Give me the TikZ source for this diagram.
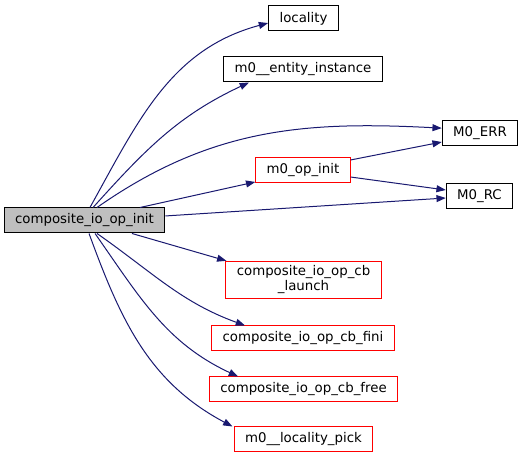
\documentclass[tikz,border=0pt]{standalone}
\usepackage{fontspec}
\setmainfont{DejaVu Sans}
\usepackage{xcolor}
\usepackage{tikz}
\usetikzlibrary{arrows.meta}

\definecolor{edgeblue}{RGB}{25,25,112}
\definecolor{nodegray}{RGB}{191,191,191}

\begin{document}
\begin{tikzpicture}[>={Triangle[length=7pt,width=5.2pt]}, x=0.75pt, y=0.75pt,
    fn/.style={draw=black, line width=0.75pt, inner xsep=8.2pt, inner ysep=3.4pt,
        minimum height=18.75pt, align=center, font=\fontsize{10pt}{11.25pt}\selectfont},
    fnred/.style={fn, draw=red},
    call/.style={->, draw=edgeblue, line width=0.75pt}]
    \useasboundingbox (0,0) rectangle (528,459);

    % Các hàm
    \node[fn, fill=nodegray] (comp) at (84.5,238.5) {composite\_io\_op\_init};
    \node[fn] (loc) at (303.5,440.5) {locality};
    \node[fn] (ent) at (303,389.5) {m0\_\_entity\_instance};
    \node[fn] (err) at (480,325.5) {M0\_ERR};
    \node[fnred] (opinit) at (303,288.5) {m0\_op\_init};
    \node[fn] (rc) at (479.5,263) {M0\_RC};
    \node[fnred] (launch) at (303.5,179) {composite\_io\_op\_cb\\\_launch};
    \node[fnred] (fini) at (303,120.5) {composite\_io\_op\_cb\_fini};
    \node[fnred] (free) at (303.5,69.5) {composite\_io\_op\_cb\_free};
    \node[fnred] (pick) at (303.5,19.5) {m0\_\_locality\_pick};

    % Lời gọi đi lên
    \draw[call] ([xshift=4.1pt]comp.north) to[out=61, in=195] ([yshift=-3.4pt]loc.west);
    \draw[call] ([xshift=6.4pt]comp.north) to[out=48, in=205] ([xshift=-40.5pt]ent.south);
    \draw[call] ([xshift=9.4pt]comp.north) to[out=35, in=177] ([yshift=4pt]err.west);
    \draw[call] ([xshift=41.6pt]comp.north) -- ([yshift=-8.6pt]opinit.west);
    \draw[call] ([yshift=3.4pt]comp.east) -- ([yshift=-1.5pt]rc.west);

    % Lời gọi của m0_op_init
    \draw[call] ([yshift=7.9pt]opinit.east) -- ([yshift=-6.4pt]err.west);
    \draw[call] ([yshift=-4.9pt]opinit.east) -- ([yshift=4.5pt]rc.west);

    % Lời gọi đi xuống
    \draw[call] ([xshift=35.6pt]comp.south) -- ([xshift=0.8pt]launch.north west);
    \draw[call] ([xshift=9.4pt]comp.south) to[out=-35, in=160] ([xshift=-43.5pt]fini.north);
    \draw[call] ([xshift=7.9pt]comp.south) to[out=-55, in=155] ([xshift=-49.1pt]free.north);
    \draw[call] ([xshift=3.4pt]comp.south) to[out=-70, in=152] ([xshift=-1pt]pick.north west);
\end{tikzpicture}
\end{document}
